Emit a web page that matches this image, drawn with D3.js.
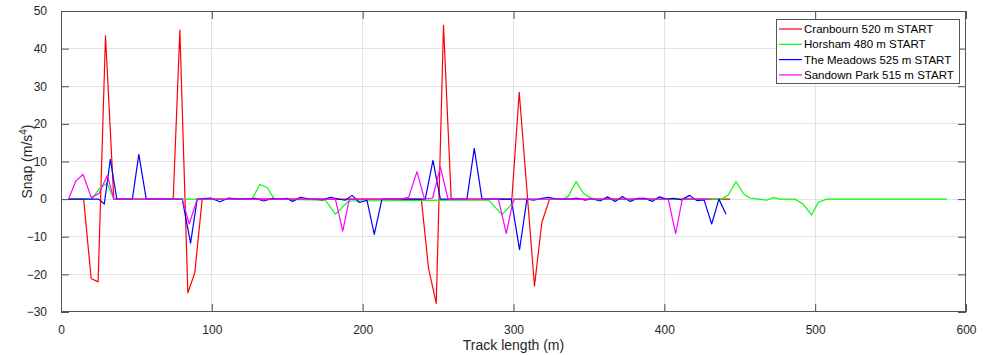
<!DOCTYPE html>
<html>
<head>
<meta charset="utf-8">
<script src="https://cdn.jsdelivr.net/npm/d3@7"></script>
<style>
  html, body { margin: 0; padding: 0; background: #fff; }
  svg { display: block; font-family: "Liberation Sans", Arial, Helvetica, sans-serif; }
</style>
</head>
<body>
<svg id="chart" width="983" height="355"></svg>
<script>
// ---- Data ----
const seriesNames = ["Cranbourn 520 m START", "Horsham 480 m START", "The Meadows 525 m START", "Sandown Park 515 m START"];
const seriesColors = ["#ff0000", "#00ff00", "#0000ff", "#ff00ff"];

const cranbournX = [5, 15, 20, 24.6, 29.5, 35, 74.4, 78.8, 84.1, 88.7, 93.6, 238.9, 243.7, 248.8, 253.6, 258.7, 298.9, 303.8, 313.9, 318.8, 323.9, 443.6];
const cranbournY = [0, 0, -21.1, -22.0, 43.4, 0, 0, 44.9, -24.9, -19.6, 0, 0, -18.5, -27.7, 46.2, 0, 0, 28.4, -23.1, -6.2, 0, 0];

const horshamX = [5, 20.5, 25, 30.5, 35, 126.7, 131.8, 136.7, 141.5, 175.3, 181.9, 190.7, 283.4, 292.3, 297.8, 301.1, 333, 336.4, 341.5, 346.4, 350.8, 354, 438, 442.4, 447.5, 452.3, 456.7, 462.3, 467.8, 472.2, 476.6, 486.6, 492, 497.6, 502, 507.5, 587.4];
const horshamY = [0, 0, 2.6, 4.2, 0, 0, 3.9, 3.1, 0, -0.3, -4.0, -0.5, -0.2, -4.1, -1.8, 0, 0, 0.8, 4.7, 1.5, 0.4, 0, 0, 1.1, 4.7, 1.5, 0.3, 0, -0.3, 0.4, 0, 0, -1.3, -4.2, -0.9, 0, 0];

const meadowsX = [5, 25, 28.7, 32.7, 37, 47.3, 51.6, 56.5, 80.4, 85.9, 90.3, 99.1, 105.3, 111.3, 116.7, 129, 134.4, 140, 145.5, 150, 153.6, 158.7, 164.2, 168.6, 173.1, 178.6, 184, 188.5, 193, 197.8, 202.9, 207.7, 212.8, 241.5, 246.6, 251.5, 269.1, 274, 279.1, 298.5, 304, 308.9, 313.3, 318.8, 323.2, 328.7, 337, 342, 347.5, 351.9, 357.4, 362.3, 367.4, 372.2, 377.3, 382.1, 387.2, 392, 396.7, 401.5, 406.4, 411.5, 416.6, 421.5, 426.3, 431.4, 436.2, 440.9];
const meadowsY = [0, 0, -1.3, 10.6, 0, 0, 11.9, 0, 0, -11.7, 0, 0.3, -0.7, 0.3, 0, 0.2, -0.5, 0.2, 0, 0.2, -0.6, 0.5, 0.1, 0, -0.2, 0.5, 0, -0.3, 1.0, -0.9, -0.3, -9.4, 0, 0, 10.3, 0, 0, 13.5, 0, 0, -13.4, 0, -0.3, 0.2, 0.5, 0, 0, 0.3, -0.3, 0.1, -0.5, 0.6, -0.6, 0.7, -0.6, 0.2, 0.2, -0.6, 0.6, 0, 0.2, -0.2, 1.0, -0.4, -0.2, -6.6, 0, -4.0];

const sandownX = [5, 9.8, 14.6, 20.1, 25.2, 30.7, 35.1, 80.4, 85, 90.3, 181.9, 186.8, 191.2, 225, 230.5, 236, 241, 246.4, 251.5, 256.6, 290, 295.2, 300, 402.6, 407.5, 411.9, 431];
const sandownY = [0, 4.8, 6.6, 0.4, 1.5, 6.3, 0, 0, -6.6, 0, 0, -8.5, 0, 0, 0.5, 7.3, 0, 0.3, 8.6, 0, 0, -9.1, 0, 0, -9.2, 0, 0];

const xTicks = [0, 100, 200, 300, 400, 500, 600];
const yTicks = [-30, -20, -10, 0, 10, 20, 30, 40, 50];
const xLabel = "Track length (m)";

const allSeries = [
  {name: seriesNames[0], color: seriesColors[0], xs: cranbournX, ys: cranbournY},
  {name: seriesNames[1], color: seriesColors[1], xs: horshamX, ys: horshamY},
  {name: seriesNames[2], color: seriesColors[2], xs: meadowsX, ys: meadowsY},
  {name: seriesNames[3], color: seriesColors[3], xs: sandownX, ys: sandownY}
];

// ---- Layout ----
const svg = d3.select("#chart");
const W = 983, H = 355;
const m = {left: 61, right: 17, top: 11, bottom: 43};
const pw = W - m.left - m.right, ph = H - m.top - m.bottom;

const x = d3.scaleLinear().domain([0, 600]).range([m.left, m.left + pw]);
const y = d3.scaleLinear().domain([-30, 50]).range([m.top + ph, m.top]);

const axisColor = "#262626";
const tickLen = 8;

// background
svg.append("rect").attr("x", m.left).attr("y", m.top).attr("width", pw).attr("height", ph).attr("fill", "#fff");

// grid
const grid = svg.append("g").attr("stroke", "#e3e3e3").attr("stroke-width", 1).attr("shape-rendering", "crispEdges");
xTicks.forEach(t => { if (t > 0 && t < 600) grid.append("line").attr("x1", x(t)).attr("x2", x(t)).attr("y1", m.top).attr("y2", m.top + ph); });
yTicks.forEach(t => { if (t > -30 && t < 50) grid.append("line").attr("y1", y(t)).attr("y2", y(t)).attr("x1", m.left).attr("x2", m.left + pw); });

// lines
const clip = svg.append("clipPath").attr("id", "clip").append("rect")
  .attr("x", m.left).attr("y", m.top).attr("width", pw).attr("height", ph);
const line = d3.line().x(d => x(d[0])).y(d => y(d[1]));
const gl = svg.append("g").attr("clip-path", "url(#clip)");
allSeries.forEach(s => {
  const pts = s.xs.map((v, i) => [v, s.ys[i]]);
  gl.append("path").datum(pts).attr("d", line).attr("fill", "none")
    .attr("stroke", s.color).attr("stroke-width", 1.2).attr("stroke-linejoin", "round");
});

// axes (bottom, left) with inward ticks; mirror top/right
const ax = svg.append("g");
const xb = d3.axisBottom(x).tickValues(xTicks).tickSizeInner(-tickLen).tickSizeOuter(0).tickPadding(13);
const yl = d3.axisLeft(y).tickValues(yTicks).tickSizeInner(-tickLen).tickSizeOuter(0).tickPadding(14);
const xt = d3.axisTop(x).tickValues(xTicks).tickSizeInner(-tickLen).tickSizeOuter(0).tickFormat("");
const yr = d3.axisRight(y).tickValues(yTicks).tickSizeInner(-tickLen).tickSizeOuter(0).tickFormat("");

function style(g) {
  g.select(".domain").remove();
  g.selectAll(".tick line").attr("stroke", axisColor).attr("stroke-width", 0.8);
  g.selectAll(".tick text").attr("fill", axisColor).style("font-size", "12px")
    .style("font-family", "'Liberation Sans', Arial, sans-serif");
}
ax.append("g").attr("transform", `translate(0,${m.top + ph})`).call(xb).call(style);
ax.append("g").attr("transform", `translate(${m.left},0)`).call(yl).call(style);
ax.append("g").attr("transform", `translate(0,${m.top})`).call(xt).call(style);
ax.append("g").attr("transform", `translate(${m.left + pw},0)`).call(yr).call(style);

// box
svg.append("rect").attr("x", m.left + 0.5).attr("y", m.top + 0.5).attr("width", pw - 1).attr("height", ph - 1)
  .attr("fill", "none").attr("stroke", "#555").attr("stroke-width", 1);

// axis labels
svg.append("text").attr("x", m.left + pw / 2).attr("y", 350).attr("text-anchor", "middle")
  .attr("fill", axisColor).style("font-size", "14px").text(xLabel);
const yt = svg.append("text").attr("transform", `translate(32,${m.top + ph / 2}) rotate(-90)`)
  .attr("text-anchor", "middle").attr("fill", axisColor).style("font-size", "14px");
yt.append("tspan").text("Snap (m/s");
yt.append("tspan").attr("baseline-shift", "super").style("font-size", "10px").text("4");
yt.append("tspan").text(")");

// legend
const lg = svg.append("g").attr("transform", "translate(776,19)");
lg.append("rect").attr("x", 0.5).attr("y", 0.5).attr("width", 183).attr("height", 64)
  .attr("fill", "#fff").attr("stroke", "#555").attr("stroke-width", 1);
allSeries.forEach((s, i) => {
  const yy = 10 + i * 15.3;
  lg.append("line").attr("x1", 3).attr("x2", 26).attr("y1", yy).attr("y2", yy)
    .attr("stroke", s.color).attr("stroke-width", 1.2);
  lg.append("text").attr("x", 28).attr("y", yy + 4).attr("fill", "#000")
    .style("font-size", "11.5px").text(s.name);
});
</script>
</body>
</html>
